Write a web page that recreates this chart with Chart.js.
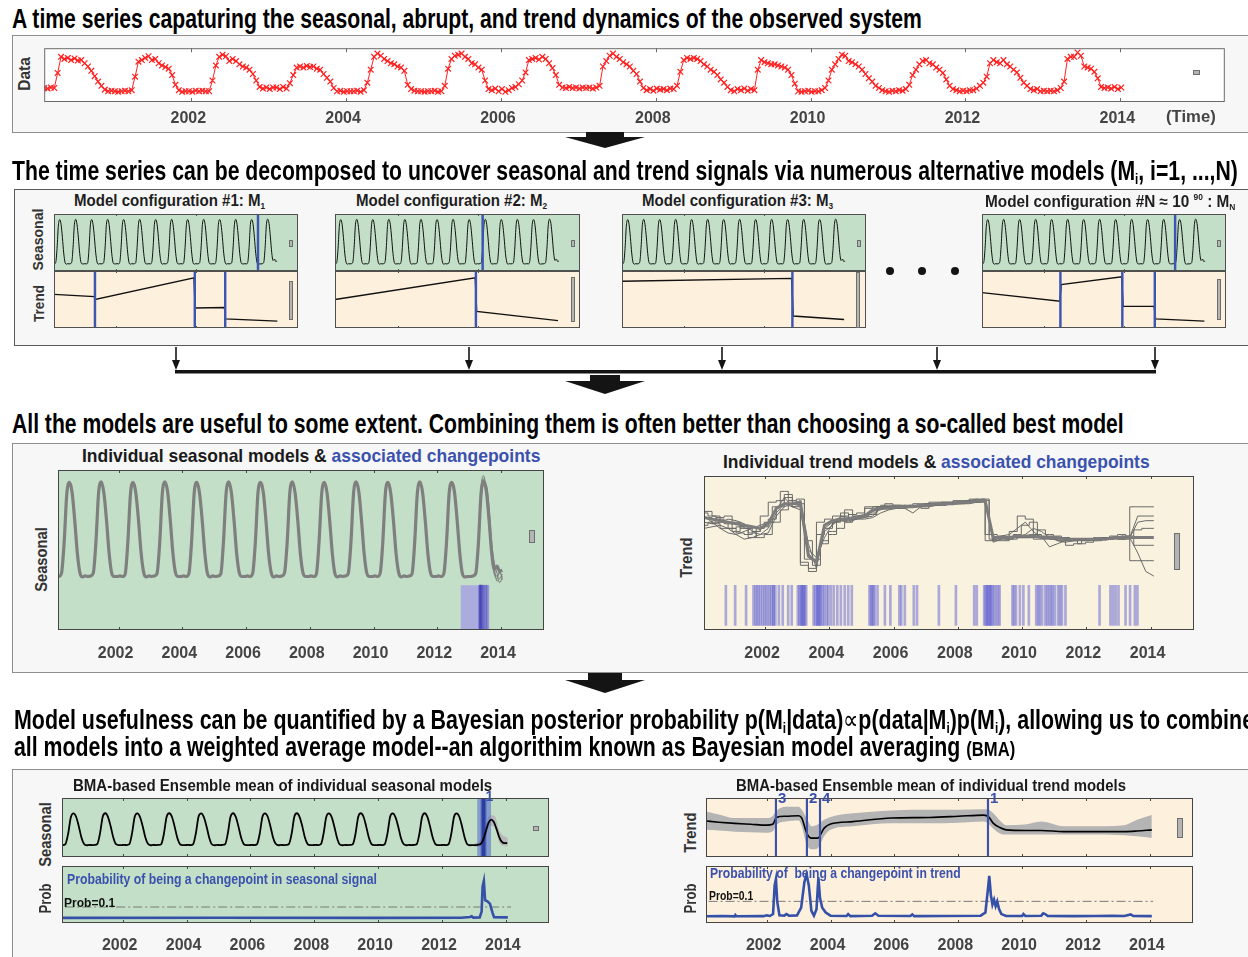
<!DOCTYPE html>
<html><head><meta charset="utf-8"><title>Seasonal / trend decomposition and BMA</title>
<script src="https://cdn.jsdelivr.net/npm/chart.js@4.4.1/dist/chart.umd.min.js"></script>
<style>
html,body{margin:0;padding:0}
body{width:1248px;height:957px;overflow:hidden;background:#fff;position:relative;font-family:"Liberation Sans",Arial,sans-serif}
.box{position:absolute;background:#f7f7f7;box-sizing:border-box}
.tx{position:absolute;white-space:nowrap;font-weight:bold;line-height:1;transform-origin:0 0;z-index:5}
.yl{position:absolute;white-space:nowrap;font-weight:bold;line-height:1;color:#333;z-index:5}
.leg{position:absolute;background:#b4b4b4;border:1px solid #6e6e6e;box-sizing:border-box;z-index:5}
canvas{position:absolute}
svg{position:absolute;left:0;top:0}
sub{font-size:0.55em;vertical-align:-0.3em;line-height:0}
sup{font-size:0.55em;vertical-align:0.8em;line-height:0}
</style></head>
<body>
<div class="box" style="left:12px;top:35px;width:1260px;height:98px;border:1.5px solid #8e8e8e"></div>
<div class="box" style="left:14px;top:189px;width:1260px;height:157px;border:1px solid #5a5a5a"></div>
<div class="box" style="left:12px;top:443px;width:1260px;height:230px;border:1.5px solid #8e8e8e"></div>
<div class="box" style="left:12px;top:769px;width:1260px;height:200px;border:1.5px solid #8e8e8e"></div>
<svg width="1248" height="957">
  <polygon points="586,132 624,132 624,137 645,137 605,148 565,137 586,137" fill="#141414"/>
  <g stroke="#141414" stroke-width="1.6">
    <line x1="176" y1="347" x2="176" y2="363"/><line x1="469" y1="347" x2="469" y2="363"/>
    <line x1="722" y1="347" x2="722" y2="363"/><line x1="937" y1="347" x2="937" y2="363"/>
    <line x1="1155" y1="347" x2="1155" y2="363"/>
  </g>
  <g fill="#141414">
    <polygon points="172,360 180,360 176,370"/><polygon points="465,360 473,360 469,370"/>
    <polygon points="718,360 726,360 722,370"/><polygon points="933,360 941,360 937,370"/>
    <polygon points="1151,360 1159,360 1155,370"/>
    <rect x="175" y="370" width="981" height="3.5"/>
    <polygon points="590,375 620,375 620,381 645,381 605,394 565,381 590,381"/>
    <polygon points="588,673 622,673 622,680 645,680 605,693 565,680 588,680"/>
    <circle cx="890" cy="271" r="4"/><circle cx="922" cy="271" r="4"/><circle cx="955" cy="271" r="4"/>
  </g>
</svg>
<script>
// ---------------- axes ----------------
const X_MIN = 2000.1, X_MAX = 2015.35;
const yearTicks = [2002, 2004, 2006, 2008, 2010, 2012, 2014];
const modelTicks = [2004, 2009];

// ---------------- observed data (16-day samples, rows start at year+0.1) ----------------
const obsFirst = 2000.1, obsPerYear = 23;
const obsRows = [
 [0.26,0.25,0.27,0.26,0.54,0.84,0.80,0.82,0.78,0.81,0.77,0.78,0.72,0.66,0.58,0.48,0.38,0.30,0.23,0.20,0.21,0.20,0.19],
 [0.20,0.21,0.20,0.22,0.47,0.75,0.78,0.82,0.85,0.78,0.80,0.72,0.68,0.65,0.62,0.50,0.32,0.22,0.19,0.20,0.20,0.19,0.21],
 [0.20,0.21,0.20,0.20,0.40,0.68,0.84,0.88,0.85,0.76,0.80,0.76,0.70,0.66,0.64,0.60,0.52,0.40,0.28,0.25,0.27,0.24,0.27],
 [0.27,0.24,0.28,0.25,0.35,0.50,0.64,0.66,0.64,0.67,0.65,0.66,0.62,0.60,0.52,0.45,0.38,0.26,0.20,0.21,0.19,0.20,0.20],
 [0.20,0.21,0.19,0.22,0.36,0.60,0.84,0.90,0.86,0.80,0.76,0.72,0.70,0.66,0.64,0.58,0.32,0.24,0.21,0.20,0.20,0.19,0.20],
 [0.20,0.21,0.19,0.20,0.30,0.62,0.80,0.86,0.88,0.90,0.84,0.80,0.72,0.70,0.64,0.60,0.40,0.24,0.22,0.25,0.20,0.24,0.19],
 [0.22,0.26,0.28,0.33,0.40,0.55,0.78,0.80,0.82,0.79,0.84,0.80,0.72,0.63,0.50,0.32,0.27,0.26,0.28,0.26,0.27,0.25,0.27],
 [0.26,0.27,0.25,0.27,0.30,0.66,0.76,0.86,0.90,0.84,0.80,0.74,0.70,0.66,0.58,0.52,0.38,0.26,0.22,0.24,0.21,0.25,0.23],
 [0.24,0.22,0.25,0.24,0.30,0.56,0.78,0.82,0.80,0.82,0.80,0.76,0.70,0.66,0.60,0.56,0.50,0.42,0.36,0.28,0.22,0.20,0.24],
 [0.22,0.25,0.21,0.24,0.22,0.60,0.78,0.74,0.72,0.70,0.70,0.68,0.66,0.64,0.60,0.50,0.34,0.20,0.19,0.20,0.21,0.19,0.20],
 [0.20,0.22,0.26,0.40,0.60,0.70,0.80,0.88,0.86,0.76,0.74,0.70,0.66,0.60,0.52,0.44,0.38,0.30,0.26,0.22,0.20,0.19,0.21],
 [0.20,0.22,0.21,0.24,0.32,0.50,0.60,0.70,0.76,0.78,0.72,0.70,0.64,0.60,0.54,0.42,0.30,0.24,0.22,0.20,0.21,0.20,0.22],
 [0.22,0.25,0.30,0.36,0.47,0.72,0.78,0.74,0.72,0.78,0.70,0.66,0.60,0.55,0.45,0.36,0.30,0.24,0.22,0.24,0.20,0.21,0.20],
 [0.21,0.20,0.22,0.26,0.38,0.80,0.84,0.84,0.92,0.86,0.66,0.64,0.62,0.56,0.44,0.28,0.26,0.27,0.25,0.28,0.24,0.27]
];

// ---------------- seasonal component (monthly) ----------------
const seasonFirstYear = 2000;
const seasonRows = [
 [-0.84,-0.86,-0.80,-0.22,0.72,0.95,0.76,0.22,-0.42,-0.80,-0.87,-0.85],
 [-0.86,-0.85,-0.79,-0.18,0.76,0.96,0.74,0.20,-0.44,-0.81,-0.86,-0.86],
 [-0.85,-0.86,-0.81,-0.20,0.74,0.95,0.75,0.23,-0.41,-0.79,-0.87,-0.85],
 [-0.86,-0.85,-0.80,-0.21,0.75,0.96,0.76,0.21,-0.43,-0.80,-0.86,-0.86],
 [-0.85,-0.86,-0.80,-0.19,0.76,0.95,0.74,0.22,-0.42,-0.81,-0.87,-0.85],
 [-0.86,-0.85,-0.81,-0.20,0.74,0.96,0.75,0.21,-0.43,-0.80,-0.86,-0.86],
 [-0.85,-0.86,-0.80,-0.21,0.75,0.95,0.76,0.22,-0.42,-0.79,-0.87,-0.85],
 [-0.86,-0.85,-0.79,-0.20,0.76,0.96,0.74,0.21,-0.44,-0.80,-0.86,-0.86],
 [-0.85,-0.86,-0.81,-0.19,0.74,0.95,0.75,0.22,-0.42,-0.81,-0.87,-0.85],
 [-0.86,-0.85,-0.80,-0.21,0.75,0.96,0.76,0.21,-0.43,-0.80,-0.86,-0.86],
 [-0.85,-0.86,-0.80,-0.20,0.76,0.95,0.74,0.22,-0.42,-0.79,-0.87,-0.85],
 [-0.86,-0.85,-0.81,-0.21,0.74,0.96,0.75,0.21,-0.43,-0.80,-0.86,-0.86],
 [-0.85,-0.86,-0.80,-0.20,0.75,0.95,0.76,0.22,-0.42,-0.81,-0.87,-0.86]
];
const season2013Model = [-0.86,-0.85,-0.80,-0.22,0.74,0.97,0.78,0.24,-0.40,-0.72,-0.66,-0.76];
const season2013Bma   = [-0.86,-0.84,-0.80,-0.55,-0.05,0.42,0.60,0.45,0.05,-0.40,-0.68,-0.75];
const season2014 = -0.74;
// a few individual seasonal models that disagree in the last year (monthly from 2012.875)
const seasonVariant1 = [-0.87,-0.85,-0.86,-0.85,-0.80,-0.20,0.78,1.02,0.80,0.25,-0.40,-0.78,-0.85,-0.80,-0.86];
const seasonVariant2 = [-0.87,-0.85,-0.86,-0.85,-0.78,-0.10,0.70,0.98,0.86,0.35,-0.30,-0.70,-0.95,-0.90,-0.82];
const seasonVariant3 = [-0.87,-0.85,-0.86,-0.84,-0.82,-0.30,0.60,0.92,0.90,0.50,-0.20,-0.60,-0.80,-0.98,-0.88];
const seasonVariant4 = [-0.87,-0.85,-0.86,-0.85,-0.80,-0.25,0.85,1.08,0.70,0.10,-0.50,-0.82,-0.90,-0.75,-0.92];
// BMA seasonal uncertainty near the end
const seasonBandX  = [2013.0, 2013.2, 2013.35, 2013.5, 2013.65, 2013.8, 2014.06];
const seasonBandHi = [-0.78, -0.55, 0.15, 0.85, 0.80, -0.05, -0.45];
const seasonBandLo = [-0.95, -0.95, -0.55, 0.25, 0.15, -0.75, -0.95];

// ---------------- the individual model configurations ----------------
const m1TrendX = [2000.1, 2002.62, 2002.68, 2008.85, 2008.92, 2010.75, 2010.82, 2014.06];
const m1TrendY = [0.59, 0.55, 0.50, 0.88, 0.35, 0.36, 0.16, 0.12];
const m1TrendCp = [2002.66, 2008.9, 2010.8];
const m1SeasonCp = [2012.85];
const m2TrendX = [2000.1, 2008.83, 2008.92, 2013.98];
const m2TrendY = [0.50, 0.88, 0.29, 0.13];
const m2TrendCp = [2008.87];
const m2SeasonCp = [2009.29];
const m3TrendX = [2000.1, 2010.7, 2010.8, 2013.98];
const m3TrendY = [0.82, 0.87, 0.21, 0.15];
const m3TrendCp = [2010.75];
const m3SeasonCp = [];
const mNTrendX = [2000.1, 2004.97, 2005.05, 2008.83, 2008.92, 2010.86, 2010.95, 2014.0];
const mNTrendY = [0.62, 0.47, 0.76, 0.90, 0.38, 0.38, 0.16, 0.12];
const mNTrendCp = [2005.0, 2008.87, 2010.9];
const mNSeasonCp = [2012.17];

// ---------------- individual trend models (quarterly from 2000.1) ----------------
const trendFirst = 2000.1, trendStep = 0.25;
const trendModel1 = [0.73,0.72,0.71,0.70, 0.69,0.68,0.67,0.66, 0.69,0.79,0.82,0.82, 0.83,0.48,0.44,0.68, 0.71,0.72,0.72,0.73, 0.74,0.78,0.79,0.79, 0.80,0.80,0.80,0.81, 0.81,0.82,0.82,0.82, 0.83,0.83,0.84,0.84, 0.60,0.60,0.60,0.61, 0.61,0.61,0.60,0.60, 0.60,0.59,0.59,0.59, 0.59,0.59,0.59,0.60, 0.60,0.60,0.60,0.60, 0.60];
const trendModel2 = [0.79,0.77,0.74,0.70, 0.66,0.63,0.62,0.64, 0.74,0.83,0.84,0.86, 0.80,0.42,0.40,0.62, 0.66,0.70,0.74,0.75, 0.76,0.80,0.80,0.81, 0.81,0.81,0.81,0.82, 0.82,0.83,0.83,0.83, 0.84,0.84,0.85,0.85, 0.62,0.58,0.58,0.64, 0.74,0.72,0.62,0.60, 0.59,0.58,0.58,0.58, 0.58,0.59,0.59,0.60, 0.60,0.61,0.80,0.80, 0.80];
const trendModel3 = [0.66,0.67,0.68,0.66, 0.62,0.59,0.60,0.62, 0.66,0.76,0.82,0.80, 0.81,0.52,0.47,0.60, 0.69,0.71,0.70,0.72, 0.73,0.74,0.79,0.80, 0.80,0.79,0.80,0.80, 0.81,0.81,0.82,0.82, 0.82,0.83,0.83,0.84, 0.57,0.59,0.60,0.60, 0.62,0.66,0.64,0.60, 0.58,0.57,0.58,0.59, 0.58,0.58,0.59,0.59, 0.59,0.60,0.50,0.38, 0.35];
const trendModel4 = [0.76,0.74,0.72,0.69, 0.64,0.67,0.60,0.66, 0.70,0.80,0.90,0.84, 0.82,0.46,0.42,0.58, 0.64,0.72,0.78,0.74, 0.74,0.76,0.80,0.82, 0.81,0.80,0.81,0.81, 0.82,0.82,0.83,0.83, 0.83,0.84,0.84,0.85, 0.59,0.61,0.60,0.62, 0.68,0.70,0.61,0.61, 0.60,0.60,0.58,0.59, 0.59,0.60,0.60,0.61, 0.62,0.61,0.65,0.66, 0.66];
const trendModel5 = [0.70,0.69,0.70,0.72, 0.71,0.69,0.64,0.62, 0.63,0.74,0.80,0.82, 0.84,0.56,0.40,0.66, 0.70,0.71,0.71,0.72, 0.72,0.73,0.76,0.78, 0.79,0.79,0.76,0.80, 0.80,0.81,0.81,0.82, 0.82,0.82,0.83,0.83, 0.61,0.60,0.61,0.60, 0.60,0.60,0.61,0.54, 0.56,0.58,0.59,0.59, 0.59,0.59,0.60,0.60, 0.60,0.60,0.70,0.71, 0.71];
const trendModel6 = [0.72,0.73,0.69,0.66, 0.66,0.67,0.66,0.64, 0.67,0.72,0.80,0.88, 0.82,0.44,0.38,0.70, 0.72,0.74,0.76,0.72, 0.73,0.79,0.80,0.80, 0.80,0.80,0.80,0.80, 0.79,0.82,0.82,0.82, 0.83,0.83,0.84,0.84, 0.58,0.59,0.59,0.59, 0.60,0.60,0.59,0.59, 0.59,0.59,0.55,0.56, 0.58,0.59,0.59,0.59, 0.60,0.59,0.45,0.45, 0.45];
const trendModel7 = [0.74,0.70,0.66,0.63, 0.62,0.64,0.66,0.68, 0.70,0.78,0.86,0.80, 0.78,0.50,0.43,0.64, 0.68,0.74,0.73,0.74, 0.75,0.77,0.78,0.80, 0.80,0.81,0.80,0.81, 0.82,0.82,0.81,0.83, 0.83,0.84,0.85,0.84, 0.60,0.61,0.62,0.66, 0.70,0.64,0.60,0.60, 0.60,0.59,0.59,0.58, 0.59,0.59,0.60,0.60, 0.61,0.60,0.74,0.74, 0.74];
const trendModel8 = [0.68,0.70,0.73,0.74, 0.70,0.66,0.63,0.60, 0.62,0.70,0.78,0.84, 0.85,0.58,0.46,0.56, 0.62,0.66,0.70,0.73, 0.74,0.75,0.80,0.80, 0.79,0.80,0.80,0.81, 0.81,0.81,0.82,0.82, 0.82,0.83,0.83,0.84, 0.62,0.60,0.59,0.60, 0.60,0.62,0.65,0.62, 0.61,0.60,0.58,0.56, 0.57,0.58,0.60,0.60, 0.59,0.60,0.55,0.55, 0.55];
const trendCpYears = [2000.78,2001.07,2001.41,2001.64,2001.70,2001.75,2001.80,2001.86,2001.92,2001.98,2002.03,2002.09,2002.15,2002.20,2002.26,2002.26,2002.32,2002.43,2002.55,2002.72,2002.83,
 2003.02,2003.07,2003.11,2003.15,2003.15,2003.20,2003.20,2003.24,2003.28,2003.51,2003.56,2003.62,2003.62,2003.66,2003.68,2003.72,2003.74,2003.80,2003.85,2003.92,2003.97,2004.05,2004.14,2004.25,2004.36,2004.48,2004.59,2004.70,
 2005.25,2005.30,2005.33,2005.37,2005.41,2005.50,2005.73,2005.90,2006.18,2006.24,2006.35,2006.63,2006.73,2007.41,2007.94,2008.51,2008.59,2008.82,2008.86,2008.91,2008.91,2008.95,2009.00,2009.00,2009.04,2009.08,2009.13,2009.19,2009.25,2009.30,
 2009.70,2009.75,2009.81,2009.93,2010.04,2010.21,2010.44,2010.50,2010.55,2010.62,2010.72,2010.78,2010.84,2010.90,2010.95,2011.02,2011.12,2011.18,2011.24,2011.35,2012.41,2012.75,2012.83,2012.91,2013.00,2013.22,2013.36,2013.51,2013.59];
const seasonCpBand = [2012.73, 2013.64];
const seasonCpYears = [2013.33,2013.34,2013.35,2013.36,2013.38,2013.40,2013.43,2013.47,2013.52,2013.57];

// ---------------- BMA results ----------------
const bmaSeasonCpBand = [2013.1, 2013.54];
const bmaSeasonCpCore = [2013.2, 2013.4];
const bmaSeasonCp = [2013.3];
const probSeasonX = [2000.10,2005.00,2010.00,2012.60,2012.88,2012.93,2012.98,2013.18,2013.24,2013.27,2013.31,2013.35,2013.42,2013.50,2013.58,2013.63,2014.06];
const probSeasonY = [0.004,0.005,0.004,0.005,0.012,0.018,0.006,0.008,0.06,0.28,0.33,0.16,0.15,0.13,0.05,0.01,0.008];
const bmaTrendX = [2000.1,2000.5,2001.0,2001.5,2002.0,2002.2,2002.3,2002.6,2003.0,2003.1,2003.25,2003.4,2003.6,2003.8,2004.0,2004.7,2005.9,2007.1,2008.0,2008.8,2008.95,2009.1,2009.3,2009.5,2010.1,2010.6,2011.3,2012.0,2013.2,2013.6,2014.06];
const bmaTrendY = [0.61,0.59,0.57,0.555,0.54,0.56,0.67,0.69,0.70,0.66,0.41,0.32,0.32,0.49,0.56,0.60,0.66,0.67,0.69,0.71,0.68,0.57,0.50,0.46,0.45,0.45,0.43,0.43,0.43,0.44,0.46];
const bmaTrendHi = [0.77,0.72,0.66,0.66,0.66,0.70,0.78,0.85,0.85,0.80,0.66,0.52,0.55,0.63,0.68,0.74,0.79,0.80,0.80,0.81,0.80,0.74,0.62,0.54,0.55,0.60,0.52,0.52,0.54,0.63,0.71];
const bmaTrendLo = [0.46,0.45,0.43,0.42,0.41,0.44,0.54,0.60,0.62,0.52,0.21,0.13,0.15,0.35,0.46,0.52,0.57,0.57,0.58,0.60,0.56,0.48,0.40,0.38,0.38,0.38,0.38,0.38,0.37,0.35,0.32];
const bmaTrendCp = [2002.29, 2003.26, 2003.67, 2008.93];
const bmaTrendCpRank = ['3', '2', '4', '1'];
const probTrendX = [2000.10,2000.60,2001.00,2001.02,2001.06,2001.90,2002.00,2002.10,2002.20,2002.25,2002.29,2002.33,2002.40,2002.55,2002.62,2002.70,2002.95,2003.08,2003.18,2003.25,2003.32,2003.40,2003.48,2003.56,2003.62,2003.67,2003.74,2003.85,2004.00,2004.50,2004.55,2004.62,2005.30,2005.40,2005.50,2006.50,2006.56,2006.62,2007.50,2008.70,2008.85,2008.93,2008.97,2009.02,2009.07,2009.12,2009.17,2009.22,2009.28,2009.35,2009.50,2010.00,2010.04,2010.10,2010.60,2010.66,2010.72,2010.80,2011.60,2012.30,2012.80,2013.20,2013.40,2013.48,2014.06];
const probTrendY = [0.006,0.008,0.006,0.014,0.006,0.007,0.012,0.008,0.02,0.20,0.24,0.10,0.012,0.01,0.02,0.01,0.012,0.06,0.22,0.27,0.20,0.04,0.01,0.05,0.25,0.12,0.06,0.03,0.01,0.008,0.02,0.007,0.01,0.025,0.01,0.008,0.018,0.007,0.008,0.01,0.03,0.18,0.26,0.14,0.08,0.11,0.07,0.10,0.05,0.02,0.008,0.008,0.02,0.008,0.01,0.025,0.02,0.008,0.007,0.008,0.01,0.008,0.018,0.008,0.007];
const probThreshold = 0.1;

// ================= helpers =================
function hasFont(f){
  const c=document.createElement('canvas').getContext('2d');
  const s='Model configuration 2002 WMmwil';
  c.font='bold 30px monospace'; const a=c.measureText(s).width;
  c.font='bold 30px "'+f+'", monospace'; const b=c.measureText(s).width;
  return Math.abs(a-b)>0.5;
}
const NARROW = hasFont('Liberation Sans Narrow');
const TFONT = (NARROW?'"Liberation Sans Narrow", ':'')+'"Liberation Sans", Arial, sans-serif';
const TICK_SIZE = NARROW ? 18 : 16;
const BLUE = '#3a52ad';

function txt(html,left,cy,size,width,color){
  const d=document.createElement('div'); d.className='tx'; d.innerHTML=html;
  d.style.fontFamily=TFONT; d.style.fontSize=size+'px';
  d.style.left=left+'px'; d.style.top=(cy-size/2)+'px'; d.style.color=color||'#000';
  document.body.appendChild(d);
  if(width){const w=d.offsetWidth; if(w>0) d.style.transform='scaleX('+(width/w).toFixed(4)+')';}
  return d;
}
function ylab(text,cx,cy,size,len){
  const d=document.createElement('div'); d.className='yl'; d.textContent=text;
  d.style.fontFamily=TFONT; d.style.fontSize=size+'px';
  document.body.appendChild(d);
  const w=d.offsetWidth,h=d.offsetHeight;
  d.style.left=(cx-w/2)+'px'; d.style.top=(cy-h/2)+'px';
  d.style.transform='rotate(-90deg) scaleX('+(len/w).toFixed(4)+')';
}
function leg(l,t,w,h){const d=document.createElement('div');d.className='leg';
  Object.assign(d.style,{left:l+'px',top:t+'px',width:w+'px',height:h+'px'});document.body.appendChild(d);}

const P=(xs,ys)=>xs.map((x,i)=>({x:x,y:ys[i]}));
const obsPoints = obsRows.flatMap((row,r)=>row.map((v,j)=>({x:obsFirst+r+j/obsPerYear,y:v})));
function seasonPoints(last){
  const rows=seasonRows.concat([last]);
  const p=rows.flatMap((row,r)=>row.map((v,m)=>({x:seasonFirstYear+r+(m+0.5)/12,y:v})));
  p.push({x:seasonFirstYear+rows.length+0.5/12,y:season2014});
  return p;
}
const variantPoints = v=>v.map((y,k)=>({x:2012+(k+10.5)/12,y:y}));
const trendPoints = v=>v.map((y,i)=>({x:trendFirst+i*trendStep,y:y}));

function L(data,color,width,extra){return Object.assign({type:'line',data:data,borderColor:color,borderWidth:width,pointRadius:0,fill:false,tension:0,yAxisID:'y',order:1},extra||{});}
function B(xs,lo,hi,color,thick,order){return {type:'bar',data:xs.map(x=>({x:x,y:[lo,hi]})),backgroundColor:color,borderWidth:0,barThickness:thick,yAxisID:'yc',order:order||0};}
function F(a,b,top,color,order){return {type:'line',data:[{x:a,y:top},{x:b,y:top}],borderWidth:0,borderColor:'rgba(0,0,0,0)',backgroundColor:color,fill:'start',pointRadius:0,yAxisID:'yc',order:order||5};}

function frame(bg,tickLen,border){
  return {id:'frame',
    beforeDraw(ch){const a=ch.chartArea,c=ch.ctx;c.save();c.fillStyle=bg;c.fillRect(a.left,a.top,a.right-a.left,a.bottom-a.top);c.restore();},
    afterDraw(ch){const a=ch.chartArea,c=ch.ctx,sx=ch.scales.x;c.save();c.strokeStyle=border||'#454545';c.lineWidth=1;
      c.strokeRect(a.left+0.5,a.top+0.5,a.right-a.left-1,a.bottom-a.top-1);
      if(tickLen){c.beginPath();sx.ticks.forEach(t=>{const p=Math.round(sx.getPixelForValue(t.value))+0.5;
        c.moveTo(p,a.bottom);c.lineTo(p,a.bottom-tickLen);c.moveTo(p,a.top);c.lineTo(p,a.top+tickLen);});c.stroke();}
      c.restore();}};
}
function labelsPlugin(xs,labels,color,font,dx,dy){
  return {id:'cpl',afterDraw(ch){const c=ch.ctx,sx=ch.scales.x,top=ch.chartArea.top;c.save();c.fillStyle=color;c.font=font;c.textBaseline='top';
    xs.forEach((x,i)=>c.fillText(labels[i],sx.getPixelForValue(x)+dx,top+dy));c.restore();}};
}

function chart(box,o){
  const padT=o.padT||0, padB=o.labelH||0;
  const cv=document.createElement('canvas');
  const W=box.w, H=box.h+padT+padB;
  cv.width=W; cv.height=H;
  cv.style.left=box.l+'px'; cv.style.top=(box.t-padT)+'px'; cv.style.width=W+'px'; cv.style.height=H+'px';
  document.body.appendChild(cv);
  const labelPad = o.labelH ? Math.max(0,(o.labelCenter - box.h - box.t) - 0.45*TICK_SIZE) : 0;
  const scales={
    x:{type:'linear',min:X_MIN,max:X_MAX,offset:false,
       afterBuildTicks:s=>{s.ticks=(o.ticks||yearTicks).map(v=>({value:v}));},
       afterFit:s=>{s.height=padB;},
       grid:{display:false,drawTicks:false},border:{display:false},
       ticks:{display:!!o.labelH,autoSkip:false,maxRotation:0,minRotation:0,padding:labelPad,labelOffset:-3,color:'#444',
              font:{family:TFONT,size:TICK_SIZE,weight:'bold'},callback:v=>String(v)}},
    y:{type:'linear',display:false,min:o.ymin,max:o.ymax},
    yc:{type:'linear',display:false,min:0,max:1}
  };
  return new Chart(cv,{type:'line',data:{datasets:o.datasets},
    options:{responsive:false,animation:false,devicePixelRatio:1,events:[],
      layout:{padding:{top:padT,left:0,right:0,bottom:0}},
      plugins:{legend:{display:false},tooltip:{enabled:false}},
      scales:scales},
    plugins:[frame(o.bg,o.tickLen,o.border)].concat(o.plugins||[])});
}

// ================= colours =================
const GREEN='#c3dfc7', PEACH='#fdf0dc', CREAM='#f8f2df';
const CPBLUE='#3d56b2';

// ================= panel 1 : observed data =================
chart({l:39,t:43,w:1191,h:59},{bg:'#ffffff',ymin:0,ymax:1,tickLen:4,labelH:24,labelCenter:116.5,border:'#6a6a6a',
  datasets:[L(obsPoints,'#ff2020',1,{pointStyle:'crossRot',pointRadius:4,pointBorderWidth:1.2,pointBorderColor:'#ff2020',pointBackgroundColor:'#ff2020'})]});

// ================= panel 2 : model configurations =================
const modelSeason = seasonPoints(season2013Model);
const models=[
  {l:54, w:244, tx:m1TrendX, ty:m1TrendY, tcp:m1TrendCp, scp:m1SeasonCp},
  {l:335,w:245, tx:m2TrendX, ty:m2TrendY, tcp:m2TrendCp, scp:m2SeasonCp},
  {l:622,w:244, tx:m3TrendX, ty:m3TrendY, tcp:m3TrendCp, scp:m3SeasonCp},
  {l:982,w:244, tx:mNTrendX, ty:mNTrendY, tcp:mNTrendCp, scp:mNSeasonCp}
];
models.forEach(m=>{
  chart({l:m.l,t:214,w:m.w,h:57},{bg:GREEN,ymin:-1.15,ymax:1.18,tickLen:2,ticks:modelTicks,border:'#505050',
    datasets:[L(modelSeason,'#111',1,{cubicInterpolationMode:'monotone',order:2}), B(m.scp,0,1,CPBLUE,1.8,0)]});
  chart({l:m.l,t:271,w:m.w,h:57},{bg:PEACH,ymin:0,ymax:1,tickLen:2,ticks:modelTicks,border:'#505050',
    datasets:[L(P(m.tx,m.ty),'#111',1.4,{order:2}), B(m.tcp,0,1,CPBLUE,1.8,0)]});
});

// ================= panel 3 : individual models =================
chart({l:58,t:470,w:486,h:160},{bg:GREEN,ymin:-1.89,ymax:1.19,tickLen:3,labelH:30,labelCenter:651,
  datasets:[
    F(seasonCpBand[0],seasonCpBand[1],0.28,'rgba(168,162,226,0.85)',6),
    B(seasonCpYears,0,0.28,'rgba(60,60,185,0.32)',2,5),
    L(variantPoints(seasonVariant1),'#7a7a7a',1,{cubicInterpolationMode:'monotone',order:3}),
    L(variantPoints(seasonVariant2),'#7a7a7a',1,{cubicInterpolationMode:'monotone',order:3}),
    L(variantPoints(seasonVariant3),'#7a7a7a',1,{cubicInterpolationMode:'monotone',order:3}),
    L(variantPoints(seasonVariant4),'#7a7a7a',1,{cubicInterpolationMode:'monotone',order:3}),
    L(seasonPoints(season2013Model),'#7f7f7f',3.2,{cubicInterpolationMode:'monotone',order:2})
  ]});
chart({l:704,t:476,w:490,h:154},{bg:CREAM,ymin:0,ymax:1,tickLen:3,labelH:30,labelCenter:651,
  datasets:[
    L(trendPoints(trendModel1),'#7c7c7c',3,{order:2}),
    L(trendPoints(trendModel2),'#6a6a6a',1,{stepped:'after',order:2}),
    L(trendPoints(trendModel3),'#6a6a6a',1,{order:2}),
    L(trendPoints(trendModel4),'#6a6a6a',1,{stepped:'middle',order:2}),
    L(trendPoints(trendModel5),'#6a6a6a',1,{order:2}),
    L(trendPoints(trendModel6),'#6a6a6a',1,{stepped:'after',order:2}),
    L(trendPoints(trendModel7),'#6a6a6a',1,{order:2}),
    L(trendPoints(trendModel8),'#6a6a6a',1,{stepped:'middle',order:2}),
    B(trendCpYears,0.03,0.29,'rgba(95,95,210,0.5)',2,3)
  ]});

// ================= panel 4 : BMA =================
chart({l:62,t:798,w:487,h:59},{bg:GREEN,ymin:-1.54,ymax:1.83,tickLen:3,padT:10,
  plugins:[labelsPlugin(bmaSeasonCp,['1'],BLUE,'bold 14px '+TFONT,2,-8)],
  datasets:[
    L(P(seasonBandX,seasonBandHi),'rgba(0,0,0,0)',0,{fill:'+1',backgroundColor:'#b9b9b9',cubicInterpolationMode:'monotone',order:7}),
    L(P(seasonBandX,seasonBandLo),'rgba(0,0,0,0)',0,{cubicInterpolationMode:'monotone',order:7}),
    F(bmaSeasonCpBand[0],bmaSeasonCpBand[1],1,'rgba(80,100,205,0.55)',6),
    F(bmaSeasonCpCore[0],bmaSeasonCpCore[1],1,'rgba(45,65,180,0.45)',5),
    B(bmaSeasonCp,0,1,'#2a3f9f',3,4),
    L(seasonPoints(season2013Bma),'#000',1.8,{cubicInterpolationMode:'monotone',order:1})
  ]});
chart({l:62,t:866,w:487,h:57},{bg:GREEN,ymin:-0.0415,ymax:0.4635,tickLen:3,labelH:32,labelCenter:943,
  datasets:[
    L([{x:2000.2,y:probThreshold},{x:2014.16,y:probThreshold}],'#7a7a7a',1,{borderDash:[9,3,2,3],order:2}),
    L(P(probSeasonX,probSeasonY),'#3450a8',2.6,{order:1})
  ]});
chart({l:706,t:798,w:487,h:59},{bg:PEACH,ymin:0,ymax:1,tickLen:3,padT:10,
  plugins:[labelsPlugin(bmaTrendCp,bmaTrendCpRank,BLUE,'bold 15px '+TFONT,2,-7)],
  datasets:[
    L(P(bmaTrendX,bmaTrendHi),'rgba(0,0,0,0)',0,{fill:'+1',backgroundColor:'#b4b4b4',cubicInterpolationMode:'monotone',order:5}),
    L(P(bmaTrendX,bmaTrendLo),'rgba(0,0,0,0)',0,{cubicInterpolationMode:'monotone',order:5}),
    L(P(bmaTrendX,bmaTrendY),'#000',1.6,{cubicInterpolationMode:'monotone',order:2}),
    B(bmaTrendCp,0,1,'#3c52aa',1.5,1)
  ]});
chart({l:706,t:866,w:487,h:57},{bg:PEACH,ymin:-0.036,ymax:0.322,tickLen:3,labelH:32,labelCenter:943,
  datasets:[
    L([{x:2000.18,y:probThreshold},{x:2014.1,y:probThreshold}],'#7a7a7a',1,{borderDash:[9,3,2,3],order:2}),
    L(P(probTrendX,probTrendY),'#3450a8',2.6,{order:1})
  ]});

// ================= legend artefacts =================
leg(1193,70,7,5);
leg(289,240,4,7); leg(289,281,4,39);
leg(571,240,4,7); leg(571,277,4,45);
leg(857,240,4,7); leg(856,272,4,56);
leg(1217,240,4,7); leg(1217,279,4,41);
leg(529,530,6,13); leg(1174,533,6,37);
leg(533,826,6,5); leg(1177,818,6,20);

// ================= texts =================
txt('A time series capaturing the seasonal, abrupt, and trend dynamics of the observed system',12,19,27,910);
txt('The time series can be decomposed to uncover seasonal and trend signals via numerous alternative models (M<sub>i</sub>, i=1, ...,N)',12,171,27,1226);
txt('All the models are useful to some extent. Combining them is often better than choosing a so-called best model',12,424,27,1112);
txt('Model usefulness can be quantified by a Bayesian posterior probability p(M<sub>i</sub>|data)<span style="font-weight:normal">\u221D</span>p(data|M<sub>i</sub>)p(M<sub>i</sub>), allowing us to combine',14,720,27,1240);
txt('all models into a weighted average model--an algorithim known as Bayesian model averaging <span style="font-size:0.78em">(BMA)</span>',14,747,27,1001);

txt('Model configuration #1: M<sub>1</sub>',74,201,16,191,'#1e1e1e');
txt('Model configuration #2: M<sub>2</sub>',356,201,16,191,'#1e1e1e');
txt('Model configuration #3: M<sub>3</sub>',642,201,16,191,'#1e1e1e');
txt('Model configuration #N \u2248 10 <sup>90</sup> : M<sub>N</sub>',985,202,16,250,'#1e1e1e');

txt('Individual seasonal models &amp; <span style="color:'+BLUE+'">associated changepoints</span>',82,455,19,458,'#1a1a1a');
txt('Individual trend models &amp; <span style="color:'+BLUE+'">associated changepoints</span>',723,461,19,427,'#1a1a1a');
txt('BMA-based Ensemble mean of individual seasonal models',73,785,17,419,'#1a1a1a');
txt('BMA-based Ensemble mean of individual trend models',736,785,17,390,'#1a1a1a');

txt('Probability of being a changepoint in seasonal signal',67,879,14,310,BLUE);
txt('Probability of&nbsp; being a changepoint in trend',710,873,14,251,BLUE);
txt('Prob=0.1',64,902,13,51,'#111');
txt('Prob=0.1',709,895,13,44,'#111');
txt('(Time)',1166,116,17,50,'#444');

ylab('Data',25,74,16,34);
ylab('Seasonal',38,239,15,62);
ylab('Trend',38,303,15,37);
ylab('Seasonal',41,559,17,65);
ylab('Trend',686,557,17,40);
ylab('Seasonal',45,834,17,65);
ylab('Prob',45,898,17,30);
ylab('Trend',690,832,17,40);
ylab('Prob',690,898,17,30);
</script>
</body></html>
